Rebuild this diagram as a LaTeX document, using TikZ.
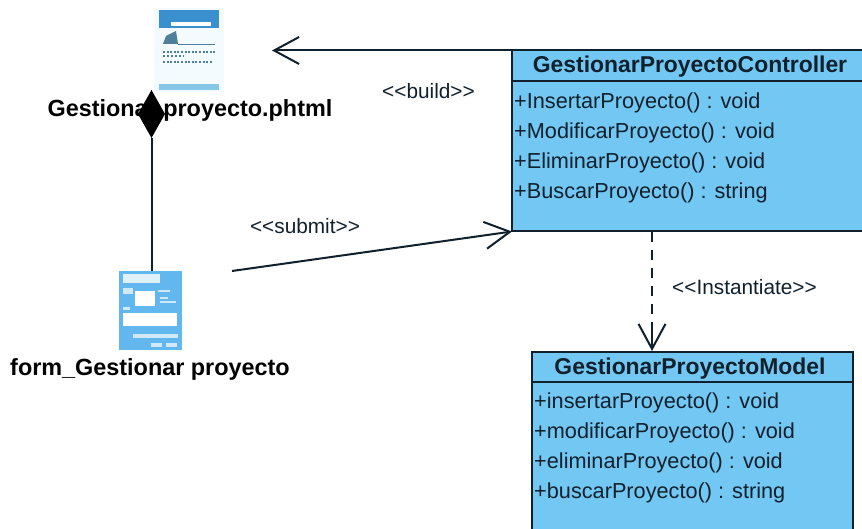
\documentclass[tikz,border=0pt]{standalone}
\usepackage{fontspec}
\setmainfont{Liberation Sans}
\usetikzlibrary{arrows.meta}
\definecolor{classblue}{HTML}{72C8F3}
\definecolor{inkc}{HTML}{10202C}
\definecolor{iconhead}{HTML}{3A8FCF}
\definecolor{iconstrip}{HTML}{86C6E6}
\definecolor{icontint}{HTML}{4F7F9A}
\definecolor{iconform}{HTML}{62B8EE}
\definecolor{iconpale}{HTML}{F4FBFE}
\tikzset{
  x=1pt,y=-1pt,
  classbox/.style={draw=inkc,line width=2pt,fill=classblue,inner sep=0pt,outer sep=0pt},
  classname/.style={font=\fontsize{22.9}{26}\bfseries\selectfont,text=inkc,inner sep=0pt},
  member/.style={font=\fontsize{21.7}{24}\selectfont,text=inkc,inner sep=0pt,anchor=west},
  iconname/.style={font=\fontsize{23.4}{26}\bfseries\selectfont,text=black,inner sep=0pt},
  stereo/.style={font=\fontsize{20.8}{24}\selectfont,text=inkc,inner sep=0pt},
  conn/.style={line width=2pt,draw=inkc},
  openhead/.style={-{Straight Barb[length=25pt,width=27pt,line width=2pt]}},
  iconbox/.style={inner sep=0pt,outer sep=0pt,minimum width=93pt},
}
\begin{document}
\begin{tikzpicture}
\useasboundingbox (0,0) rectangle (862,529);
\clip (0,0) rectangle (862,529);
\fill[white] (0,0) rectangle (862,529);

% page icon
\node[iconbox,fill=iconpale,minimum width=70pt,minimum height=84pt] (page) at (189,50) {};
\fill[iconhead] (159,10) rectangle (219,28);
\fill[white] (171,22) rectangle (211,26);
\fill[icontint] (163,44) -- (166,36) -- (176,31) -- (178,44) -- cycle;
\draw[icontint,line width=1.2pt] (178,44.5) -- (215,44.5);
\draw[icontint,line width=2pt,dash pattern=on 2pt off 1.6pt] (163,52) -- (215,52);
\draw[icontint,line width=1.2pt,dash pattern=on 2pt off 2pt] (163,56) -- (184,56);
\draw[icontint,line width=2pt,dash pattern=on 2pt off 1.6pt] (163,62) -- (212,62);
\fill[iconstrip] (159,84.5) rectangle (219,90);

% form icon
\node[iconbox,fill=iconform,minimum width=63pt,minimum height=79pt] (form) at (150.5,310.5) {};
\fill[white,opacity=.8] (123,274) rectangle (160,283);
\fill[white] (135,291) rectangle (155,306);
\fill[white,opacity=.7] (158,290) rectangle (170,292);
\fill[white,opacity=.7] (160,297) rectangle (168,299);
\fill[white,opacity=.7] (160,301) rectangle (176,303);
\fill[white,opacity=.7] (123,288) rectangle (133,294);
\fill[white,opacity=.7] (123,307) rectangle (130,310);
\fill[white] (123,313) rectangle (177,326);
\fill[white,opacity=.7] (133,334) rectangle (178,338);
\fill[white,opacity=.7] (151,343) rectangle (162,347);
\fill[white,opacity=.7] (166,343) rectangle (177,347);

% icon labels
\node[iconname] (pagelabel) at (190,110) {Gestionar proyecto.phtml};
\node[iconname] (formlabel) at (150,369) {form\_Gestionar proyecto};

% controller class
\node[classbox,anchor=north west,minimum width=360pt,minimum height=181pt] (ctrl) at (512,50.5) {};
\draw[inkc,line width=2pt] (512,81) -- (872,81);
\node[classname] (ctrlname) at (690,66.5) {GestionarProyectoController};
\node[member] (c1) at (514,103) {+InsertarProyecto() : void};
\node[member] (c2) at (514,133) {+ModificarProyecto() : void};
\node[member] (c3) at (514,163) {+EliminarProyecto() : void};
\node[member] (c4) at (514,193) {+BuscarProyecto() : string};

% model class
\node[classbox,anchor=north west,minimum width=321pt,minimum height=190pt] (model) at (532,352) {};
\draw[inkc,line width=2pt] (532,382) -- (853,382);
\node[classname] (modelname) at (690,368.5) {GestionarProyectoModel};
\node[member] (m1) at (534,403) {+insertarProyecto() : void};
\node[member] (m2) at (534,433) {+modificarProyecto() : void};
\node[member] (m3) at (534,463) {+eliminarProyecto() : void};
\node[member] (m4) at (534,493) {+buscarProyecto() : string};

% connectors
\coordinate (buildtip) at (272,50.5);
\coordinate (submitfrom) at (232,271);
\coordinate (insttop) at (652,232);
\coordinate (insttip) at (652,351);
\draw[conn,openhead] (ctrl.north west) -- (buildtip);
\draw[conn,openhead] (submitfrom) -- (ctrl.south west);
\draw[conn,dash pattern=on 10pt off 8pt] (insttop) -- (652,330);
\draw[conn,openhead] (652,328) -- (insttip);

% composition
\coordinate (diamondtop) at (151.5,90);
\draw[conn] (form.north) ++(1,0) -- (151.5,138);
\fill[black] (diamondtop) -- (165,114) -- (151.5,138) -- (138,114) -- cycle;

% stereotypes
\node[stereo] (lbuild) at (428.5,91) {<{}<build>{}>};
\node[stereo] (lsubmit) at (305,226) {<{}<submit>{}>};
\node[stereo] (linst) at (744.5,287) {<{}<Instantiate>{}>};
\end{tikzpicture}
\end{document}
